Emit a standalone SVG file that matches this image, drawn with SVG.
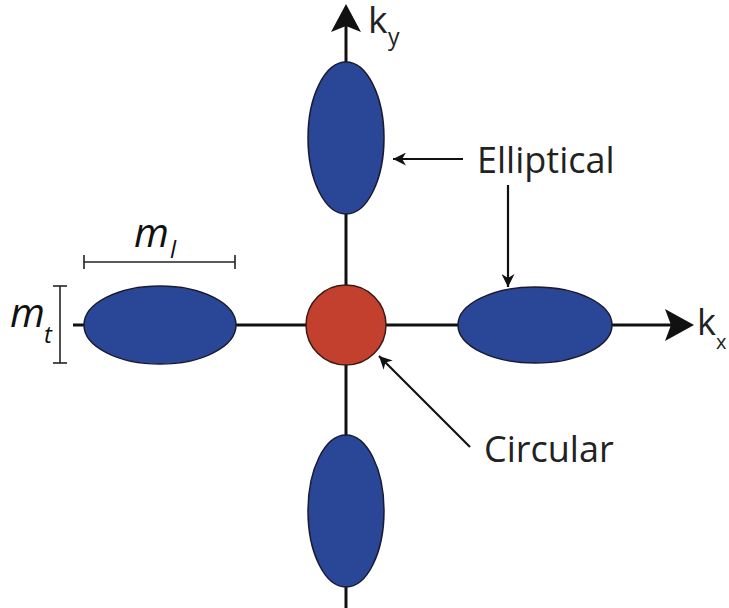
<svg xmlns="http://www.w3.org/2000/svg" width="729" height="608" viewBox="0 0 729 608">
<style>
.axis{stroke:#111;stroke-width:3;fill:none}
.dim{stroke:#222;stroke-width:1.6;fill:none}
.ptr{stroke:#111;stroke-width:2.2;fill:none}
.blue{fill:#2a4797;stroke:#1a1a30;stroke-width:1.5}
.red{fill:#c4402e;stroke:#3a1a14;stroke-width:1.5}
.lbl{font-family:"Open Sans","Liberation Sans",sans-serif;fill:#222}
.it{font-family:"Open Sans","Liberation Sans",sans-serif;font-style:italic;fill:#111}
</style>
<defs>
<marker id="sm" viewBox="0 0 10 10" refX="10" refY="5" markerWidth="16" markerHeight="13" orient="auto" markerUnits="userSpaceOnUse">
<path d="M0,0 L10,5 L0,10 L3,5 Z" fill="#111"/>
</marker>
</defs>
<g id="connectors">
<line class="axis" x1="346" y1="608" x2="346" y2="20"/>
<path d="M346,4 L361,32 L346,26 L331,32 Z" fill="#111"/>
<line class="axis" x1="73" y1="325" x2="680" y2="325"/>
<path d="M694,325 L665,309 L671,325 L665,341 Z" fill="#111"/>
<line class="ptr" x1="463" y1="159" x2="393" y2="159" marker-end="url(#sm)"/>
<line class="ptr" x1="508" y1="185" x2="508" y2="287" marker-end="url(#sm)"/>
<line class="ptr" x1="470" y1="447" x2="379" y2="356" marker-end="url(#sm)"/>
</g>
<g id="dim-ml">
<line class="dim" x1="84" y1="262" x2="235" y2="262"/>
<line class="dim" x1="84" y1="255" x2="84" y2="269"/>
<line class="dim" x1="235" y1="255" x2="235" y2="269"/>
<text class="it" x="134" y="247" font-size="40">m</text>
<text class="it" x="170" y="258" font-size="24">l</text>
</g>
<g id="dim-mt">
<line class="dim" x1="60" y1="286" x2="60" y2="363"/>
<line class="dim" x1="53" y1="286" x2="67" y2="286"/>
<line class="dim" x1="53" y1="363" x2="67" y2="363"/>
<text class="it" x="10" y="327" font-size="40">m</text>
<text class="it" x="44" y="343" font-size="24">t</text>
</g>
<g id="ellipse-top"><ellipse class="blue" cx="346" cy="138" rx="38" ry="76"/></g>
<g id="ellipse-bottom"><ellipse class="blue" cx="346" cy="511" rx="38" ry="76"/></g>
<g id="ellipse-left"><ellipse class="blue" cx="160" cy="325" rx="76" ry="39"/></g>
<g id="ellipse-right"><ellipse class="blue" cx="535" cy="325" rx="77" ry="38"/></g>
<g id="circle-center"><circle class="red" cx="346" cy="325" r="40"/></g>
<g id="label-ky">
<text class="lbl" x="368" y="33" font-size="37">k</text>
<text class="lbl" x="388" y="45" font-size="23">y</text>
</g>
<g id="label-kx">
<text class="lbl" x="697" y="335" font-size="36">k</text>
<text class="lbl" x="716" y="349" font-size="20">x</text>
</g>
<g id="label-elliptical"><text class="lbl" x="477" y="173" font-size="36">Elliptical</text></g>
<g id="label-circular"><text class="lbl" x="484" y="462" font-size="36">Circular</text></g>
</svg>
